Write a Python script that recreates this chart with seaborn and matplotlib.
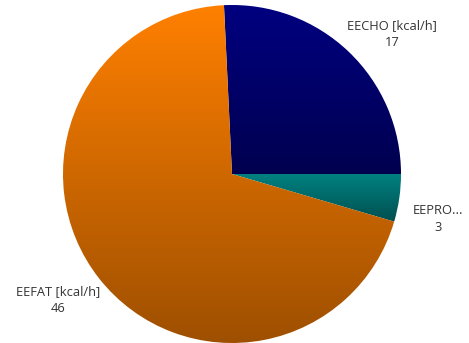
import numpy as np
import matplotlib
matplotlib.use("Agg")
import matplotlib.pyplot as plt
import seaborn as sns
from matplotlib.colors import to_rgb

categories = ["EECHO [kcal/h]", "EEPRO...", "EEFAT [kcal/h]"]
values = [17, 3, 46]
base_colors = ["#000080", "#008080", "#FF8000"]
label_pos = [(392, 309), (438, 124), (58, 43)]

sns.set_style("white")
plt.rcParams['font.family'] = ['Open Sans', 'DejaVu Sans']

fig = plt.figure(figsize=(4.69, 3.43), dpi=100)
ax = fig.add_axes([0, 0, 1, 1])

cx, cy, R = 232, 169, 169
labels = [f"{c}\n{v}" for c, v in zip(categories, values)]
wedges, texts = ax.pie(values, labels=labels, colors=base_colors,
                       startangle=360 * values[0] / sum(values),
                       counterclock=False, center=(cx, cy), radius=R,
                       labeldistance=1.26, frame=True,
                       textprops=dict(fontsize=9.3, color="#333333"))
for t, p in zip(texts, label_pos):
    t.set_position(p)
    t.set_ha("center")
    t.set_va("center")
    t.set_linespacing(1.45)

ax.set_xlim(0, 469)
ax.set_ylim(0, 343)
ax.set_aspect("equal")
ax.axis("off")

fig.canvas.draw()
for w, col in zip(wedges, base_colors):
    ext = w.get_path().get_extents(w.get_patch_transform())
    top = np.array(to_rgb(col))
    bot = top * 0.62
    n = 256
    t = np.linspace(0, 1, n)[:, None]
    grad = (top[None, :] * (1 - t) + bot[None, :] * t)[:, None, :]
    im = ax.imshow(grad, extent=(ext.x0, ext.x1, ext.y0, ext.y1),
                   origin="upper", aspect="auto", zorder=w.get_zorder() + 0.1,
                   interpolation="bilinear")
    im.set_clip_path(w)

ax.set_xlim(0, 469)
ax.set_ylim(0, 343)
fig.savefig("out.png", dpi=100)
